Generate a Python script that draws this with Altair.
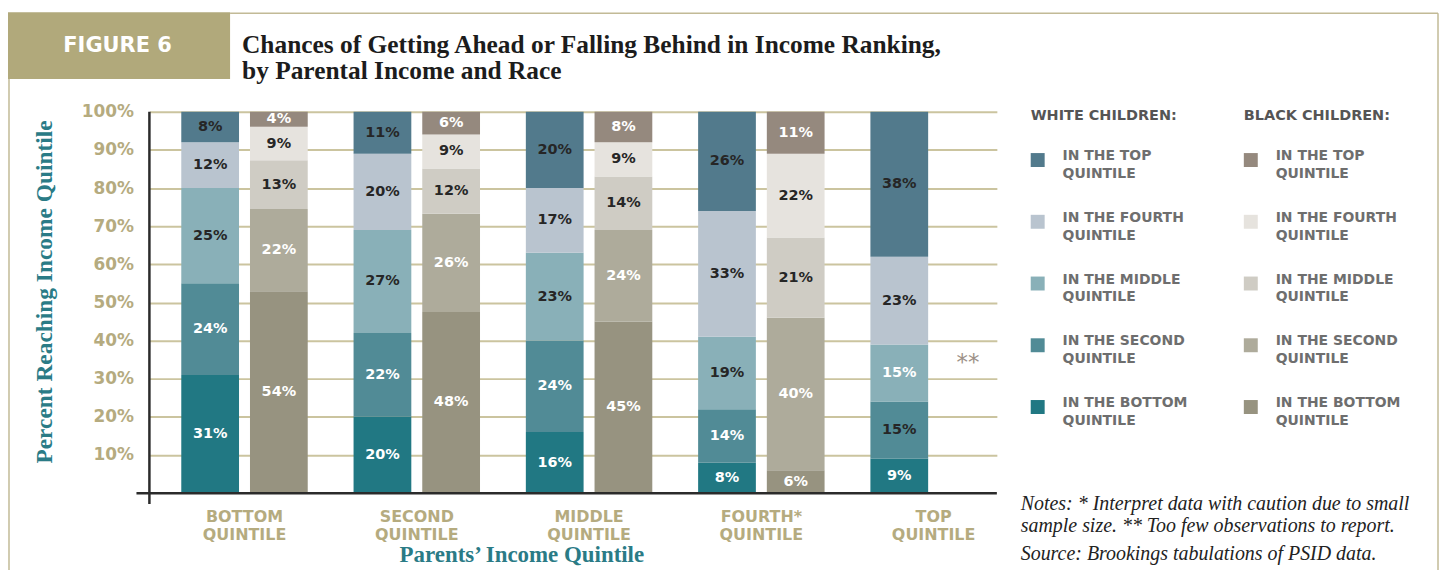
import altair as alt
import pandas as pd

# ---------------- data ----------------
groups = ["Bottom Quintile", "Second Quintile", "Middle Quintile", "Fourth* Quintile", "Top Quintile"]
levels = ["bottom", "second", "middle", "fourth", "top"]          # stacking order, base first
legend_levels = ["top", "fourth", "middle", "second", "bottom"]   # legend order

# shares per parental quintile, listed bottom -> top quintile reached
white_values = [
    [31, 24, 25, 12, 8],
    [20, 22, 27, 20, 11],
    [16, 24, 23, 17, 20],
    [8, 14, 19, 33, 26],
    [9, 15, 15, 23, 38],
]
black_values = [
    [54, 22, 13, 9, 4],
    [48, 26, 12, 9, 6],
    [45, 24, 14, 9, 8],
    [6, 40, 21, 22, 11],
]
# 1 = dark label text, 0 = white label text
white_dark = [
    [0, 0, 1, 1, 1],
    [0, 0, 1, 1, 1],
    [0, 0, 1, 1, 1],
    [0, 0, 1, 1, 1],
    [0, 1, 0, 1, 1],
]
black_dark = [0, 0, 1, 1, 0]

white_colors = ["#527a8c", "#b9c4cf", "#89b0b8", "#518b96", "#217883"]  # top..bottom
black_colors = ["#95897e", "#e6e3de", "#cfccc4", "#aeab9b", "#979380"]

note_lines = [
    "Notes: * Interpret data with caution due to small",
    "sample size. ** Too few observations to report.",
    "Source:  Brookings tabulations of PSID data.",
]
title_lines = [
    "Chances of Getting Ahead or Falling Behind in Income Ranking,",
    "by Parental Income and Race",
]
missing_mark = "**"
missing_pos = 0.342

rows = []
for gi, g in enumerate(groups):
    for li, lv in enumerate(levels):
        rows.append(dict(group=g, race="White", level=lv, rank=li,
                         value=white_values[gi][li],
                         tc="#262626" if white_dark[gi][li] else "#ffffff"))
    if gi < len(black_values):
        for li, lv in enumerate(levels):
            rows.append(dict(group=g, race="Black", level=lv, rank=li,
                             value=black_values[gi][li],
                             tc="#262626" if black_dark[li] else "#ffffff"))
df = pd.DataFrame(rows)
df_white = df[df.race == "White"]
df_black = df[df.race == "Black"]
df_missing = pd.DataFrame({"group": [groups[-1]], "race": ["Black"], "pos": [missing_pos], "t": [missing_mark]})
dummy = pd.DataFrame({"a": [0]})

# ---------------- styles ----------------
OLIVE = "#b1a97b"
OLIVE_TXT = "#b5ab7f"
TEAL = "#2a7b86"
W, H = 851, 383
SANS = "DejaVu Sans"
SERIF = "Liberation Serif"

x_scale = alt.Scale(domain=groups, paddingInner=0.266, paddingOuter=0.0925, align=1)
x_axis = alt.Axis(title=None, domain=False, ticks=False, grid=False,
                  labelExpr="split(upper(datum.label), ' ')",
                  labelFont=SANS, labelFontWeight="bold", labelFontSize=16,
                  labelColor=OLIVE_TXT, labelLineHeight=19, labelPadding=15, labelAngle=0)
xo_scale = alt.Scale(domain=["White", "Black"], paddingInner=0.1594, paddingOuter=0)
y_scale = alt.Scale(domain=[0, 1], nice=False)
y_axis = alt.Axis(title=None, values=[i / 10 for i in range(1, 11)], format=".0%",
                  domain=False, ticks=False, grid=True, gridColor="#cbc49f", gridWidth=2,
                  labelFont=SANS, labelFontWeight="bold", labelFontSize=17,
                  labelColor=OLIVE_TXT, labelPadding=16)

X = alt.X("group:N", sort=groups, scale=x_scale, axis=x_axis)
XO = alt.XOffset("race:N", scale=xo_scale)


def legend(title, lx):
    return alt.Legend(orient="none", legendX=lx, legendY=-3, title=title,
                      titleFont=SANS, titleFontSize=14.5, titleFontWeight="bold",
                      titleColor="#555555", titlePadding=30,
                      labelExpr="['IN THE ' + upper(datum.label), 'QUINTILE']",
                      labelFont=SANS, labelFontSize=14, labelFontWeight="bold",
                      labelColor="#6e6e6e", labelOffset=18,
                      labelBaseline="alphabetic", labelLimit=300,
                      symbolType="square", symbolSize=196, symbolStrokeWidth=0,
                      symbolOpacity=1, rowPadding=30)


white_bars = alt.Chart(df_white).mark_bar().encode(
    x=X, xOffset=XO,
    y=alt.Y("value:Q", stack="normalize", scale=y_scale, axis=y_axis),
    color=alt.Color("level:N", scale=alt.Scale(domain=legend_levels, range=white_colors),
                    legend=legend("WHITE CHILDREN:", 885)),
    order=alt.Order("rank:Q"),
)
black_bars = alt.Chart(df_black).mark_bar().encode(
    x=X, xOffset=XO,
    y=alt.Y("value:Q", stack="normalize", scale=y_scale, axis=y_axis),
    color=alt.Color("level:N", scale=alt.Scale(domain=legend_levels, range=black_colors),
                    legend=legend("BLACK CHILDREN:", 1099)),
    order=alt.Order("rank:Q"),
)

labels = alt.Chart(df).transform_stack(
    stack="value", as_=["v0", "v1"], groupby=["group", "race"], offset="normalize",
    sort=[alt.SortField("rank", order="ascending")],
).transform_calculate(
    mid="(datum.v0 + datum.v1) / 2", lab="datum.value + '%'"
).mark_text(font=SANS, fontWeight="bold", fontSize=14.5, baseline="middle").encode(
    x=X, xOffset=XO,
    y=alt.Y("mid:Q", scale=y_scale, axis=y_axis),
    text="lab:N",
    color=alt.Color("tc:N", scale=None),
)

missing = alt.Chart(df_missing).mark_text(font=SANS, fontSize=23, color="#9d9188",
                                          baseline="middle").encode(
    x=X, xOffset=XO, y=alt.Y("pos:Q", scale=y_scale, axis=y_axis), text="t:N")

# ---------------- decorations ----------------
base = alt.Chart(dummy)
fig_box = base.mark_rect(color=OLIVE).encode(
    x=alt.value(-143), x2=alt.value(81), y=alt.value(-100), y2=alt.value(-33))
border_top = base.mark_rule(color="#c2ba96", strokeWidth=1.5).encode(
    x=alt.value(81), x2=alt.value(1294), y=alt.value(-99), y2=alt.value(-99))
border_right = base.mark_rule(color="#c2ba96", strokeWidth=1.5).encode(
    x=alt.value(1294), x2=alt.value(1294), y=alt.value(-99), y2=alt.value(470))
border_left = base.mark_rule(color="#c2ba96", strokeWidth=1.5).encode(
    x=alt.value(-141), x2=alt.value(-141), y=alt.value(-33), y2=alt.value(470))
fig_text = base.mark_text(text="FIGURE 6", font=SANS, fontSize=21, fontWeight="bold",
                          color="#ffffff", align="center", baseline="middle").encode(
    x=alt.value(-32), y=alt.value(-66))
title1 = base.mark_text(text=title_lines[0], font=SERIF, fontSize=25.5, fontWeight="bold",
                        color="#1c1c1c", align="left", baseline="alphabetic").encode(
    x=alt.value(93), y=alt.value(-59))
title2 = base.mark_text(text=title_lines[1], font=SERIF, fontSize=25.5, fontWeight="bold",
                        color="#1c1c1c", align="left", baseline="alphabetic").encode(
    x=alt.value(93), y=alt.value(-33))
ytitle = base.mark_text(text="Percent Reaching Income Quintile", font=SERIF, fontSize=23.5,
                        fontWeight="bold", color=TEAL, angle=270, align="center",
                        baseline="middle").encode(x=alt.value(-105), y=alt.value(181))
xtitle = base.mark_text(text="Parents\u2019 Income Quintile", font=SERIF, fontSize=23,
                        fontWeight="bold", color=TEAL, align="center",
                        baseline="alphabetic").encode(x=alt.value(374), y=alt.value(452))
notes = [
    base.mark_text(text=t, font=SERIF, fontSize=20, fontStyle="italic", color="#222222",
                   align="left", baseline="alphabetic").encode(x=alt.value(875), y=alt.value(yy))
    for t, yy in zip(note_lines, [400, 422, 450])
]
x_line = base.mark_rule(color="#2b2b2b", strokeWidth=2.5).encode(
    x=alt.value(-13), x2=alt.value(W), y=alt.value(H), y2=alt.value(H))
y_line = base.mark_rule(color="#2b2b2b", strokeWidth=2.5).encode(
    x=alt.value(0), x2=alt.value(0), y=alt.value(0), y2=alt.value(H + 11))

chart = alt.layer(
    white_bars, black_bars, labels, missing,
    fig_box, border_top, border_right, border_left, fig_text, title1, title2,
    ytitle, xtitle, *notes, x_line, y_line,
).resolve_scale(color="independent").properties(
    width=W, height=H,
    autosize=alt.AutoSizeParams(type="none"),
    padding={"left": 142, "top": 103, "right": 445, "bottom": 76},
    background="#ffffff",
).configure(
    view=alt.ViewConfig(stroke=None),
    style={"guide-label": {"lineHeight": 18}},
)

chart.save("out.html", embed_options={"renderer": "svg", "actions": False})
